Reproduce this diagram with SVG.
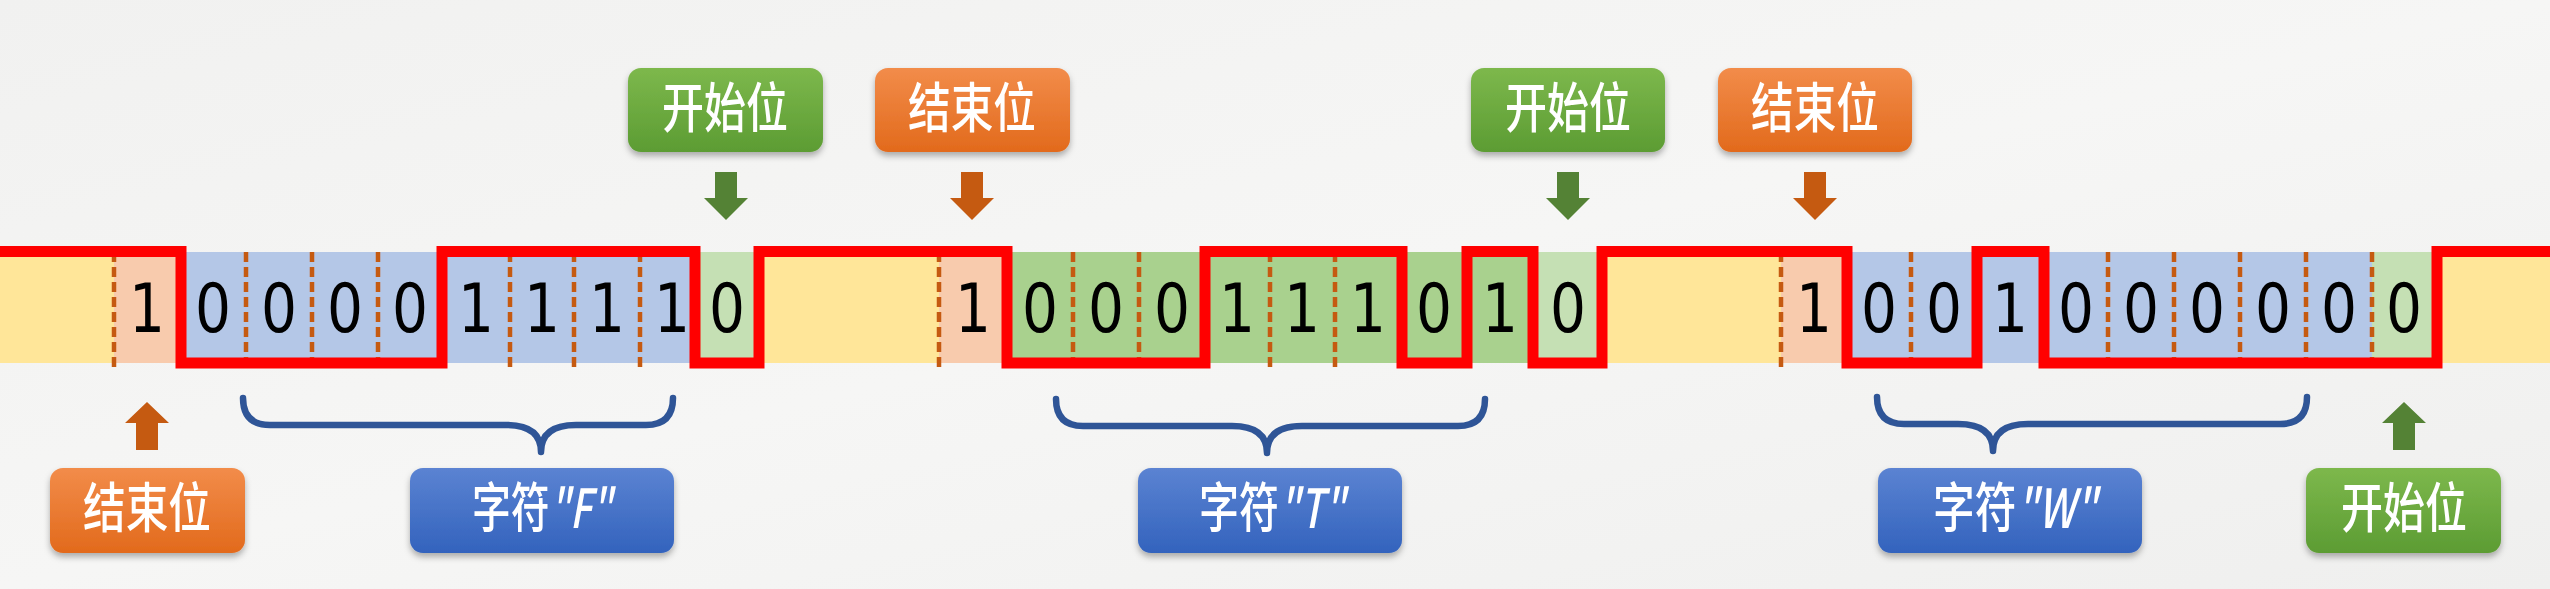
<svg xmlns="http://www.w3.org/2000/svg" width="2550" height="589" viewBox="0 0 2550 589">
  <style>
    .idle{fill:#ffe699}
    .stop{fill:#f8cbad}
    .dataB{fill:#b4c7e7}
    .dataG{fill:#a9d18e}
    .start{fill:#c5e0b4}
    .dash{stroke:#c55a11;stroke-width:4.5;stroke-dasharray:10 5;fill:none}
    .bit{font-family:"DejaVu Sans","Liberation Sans",sans-serif;font-size:68px;fill:#000;text-anchor:middle}
    .sig{fill:none;stroke:#ff0000;stroke-width:11;stroke-linejoin:miter;stroke-linecap:square}
    .lbl{font-family:"Noto Sans CJK SC","Noto Sans",sans-serif;font-size:54px;font-weight:500;fill:#fff;text-anchor:middle}
    .lat{font-style:italic}
    .brace{fill:none;stroke:#2f5597;stroke-width:6.5;stroke-linecap:round;stroke-linejoin:round}
    .arrG{fill:#548235}
    .arrO{fill:#c55a11}
  </style>
  <defs>
    <linearGradient id="gG" x1="0" y1="0" x2="0" y2="1">
      <stop offset="0" stop-color="#7db84c"/>
      <stop offset="1" stop-color="#5c9c33"/>
    </linearGradient>
    <linearGradient id="gO" x1="0" y1="0" x2="0" y2="1">
      <stop offset="0" stop-color="#f28c4a"/>
      <stop offset="1" stop-color="#e26a1c"/>
    </linearGradient>
    <linearGradient id="gB" x1="0" y1="0" x2="0" y2="1">
      <stop offset="0" stop-color="#5b83d2"/>
      <stop offset="1" stop-color="#3363bd"/>
    </linearGradient>
    <linearGradient id="bg" x1="0" y1="0" x2="1" y2="1">
      <stop offset="0" stop-color="#f1f1f0"/>
      <stop offset="0.5" stop-color="#f6f6f5"/>
      <stop offset="1" stop-color="#efefee"/>
    </linearGradient>
    <filter id="sh" x="-10%" y="-10%" width="120%" height="140%">
      <feDropShadow dx="0" dy="4" stdDeviation="3" flood-color="#000" flood-opacity="0.3"/>
    </filter>
  </defs>

  <rect x="0" y="0" width="2550" height="589" fill="url(#bg)"/>

  <!-- signal band -->
  <g id="band">
    <rect class="idle" x="0" y="252" width="114" height="111"/>
    <rect class="stop" x="114" y="252" width="67" height="111"/>
    <rect class="dataB" x="181" y="252" width="514" height="111"/>
    <rect class="start" x="695" y="252" width="64" height="111"/>
    <rect class="idle" x="759" y="252" width="180" height="111"/>
    <rect class="stop" x="939" y="252" width="68" height="111"/>
    <rect class="dataG" x="1007" y="252" width="526" height="111"/>
    <rect class="start" x="1533" y="252" width="69" height="111"/>
    <rect class="idle" x="1602" y="252" width="179" height="111"/>
    <rect class="stop" x="1781" y="252" width="66" height="111"/>
    <rect class="dataB" x="1847" y="252" width="525" height="111"/>
    <rect class="start" x="2372" y="252" width="65" height="111"/>
    <rect class="idle" x="2437" y="252" width="113" height="111"/>

    <g class="dash">
      <path d="M114 252V367M246 252V367M312 252V367M378 252V367M510 252V367M574 252V367M640 252V367"/>
      <path d="M939 252V367M1073 252V367M1139 252V367M1270 252V367M1335 252V367"/>
      <path d="M1781 252V367M1911 252V367M2108 252V367M2174 252V367M2240 252V367M2306 252V367M2372 252V367"/>
    </g>

    <g class="bit">
      <text x="147" y="332" textLength="36" lengthAdjust="spacingAndGlyphs">1</text>
      <text x="213" y="332" textLength="36" lengthAdjust="spacingAndGlyphs">0</text>
      <text x="279" y="332" textLength="36" lengthAdjust="spacingAndGlyphs">0</text>
      <text x="345" y="332" textLength="36" lengthAdjust="spacingAndGlyphs">0</text>
      <text x="410" y="332" textLength="36" lengthAdjust="spacingAndGlyphs">0</text>
      <text x="476" y="332" textLength="36" lengthAdjust="spacingAndGlyphs">1</text>
      <text x="542" y="332" textLength="36" lengthAdjust="spacingAndGlyphs">1</text>
      <text x="607" y="332" textLength="36" lengthAdjust="spacingAndGlyphs">1</text>
      <text x="672" y="332" textLength="36" lengthAdjust="spacingAndGlyphs">1</text>
      <text x="727" y="332" textLength="36" lengthAdjust="spacingAndGlyphs">0</text>

      <text x="973" y="332" textLength="36" lengthAdjust="spacingAndGlyphs">1</text>
      <text x="1040" y="332" textLength="36" lengthAdjust="spacingAndGlyphs">0</text>
      <text x="1106" y="332" textLength="36" lengthAdjust="spacingAndGlyphs">0</text>
      <text x="1172" y="332" textLength="36" lengthAdjust="spacingAndGlyphs">0</text>
      <text x="1237" y="332" textLength="36" lengthAdjust="spacingAndGlyphs">1</text>
      <text x="1302" y="332" textLength="36" lengthAdjust="spacingAndGlyphs">1</text>
      <text x="1368" y="332" textLength="36" lengthAdjust="spacingAndGlyphs">1</text>
      <text x="1434" y="332" textLength="36" lengthAdjust="spacingAndGlyphs">0</text>
      <text x="1500" y="332" textLength="36" lengthAdjust="spacingAndGlyphs">1</text>
      <text x="1568" y="332" textLength="36" lengthAdjust="spacingAndGlyphs">0</text>

      <text x="1814" y="332" textLength="36" lengthAdjust="spacingAndGlyphs">1</text>
      <text x="1879" y="332" textLength="36" lengthAdjust="spacingAndGlyphs">0</text>
      <text x="1944" y="332" textLength="36" lengthAdjust="spacingAndGlyphs">0</text>
      <text x="2010" y="332" textLength="36" lengthAdjust="spacingAndGlyphs">1</text>
      <text x="2076" y="332" textLength="36" lengthAdjust="spacingAndGlyphs">0</text>
      <text x="2141" y="332" textLength="36" lengthAdjust="spacingAndGlyphs">0</text>
      <text x="2207" y="332" textLength="36" lengthAdjust="spacingAndGlyphs">0</text>
      <text x="2273" y="332" textLength="36" lengthAdjust="spacingAndGlyphs">0</text>
      <text x="2339" y="332" textLength="36" lengthAdjust="spacingAndGlyphs">0</text>
      <text x="2404" y="332" textLength="36" lengthAdjust="spacingAndGlyphs">0</text>
    </g>

    <path class="sig" d="M-10 251.5H181V363H442V251.5H695V363H759V251.5H1007V363H1205V251.5H1402V363H1467V251.5H1533V363H1602V251.5H1847V363H1977V251.5H2044V363H2437V251.5H2560"/>
  </g>

  <!-- connectors: pointer arrows and braces -->
  <g id="connectors">
    <path class="arrG" d="M715 172H737V198H748L726 220L704 198H715Z"/>
    <path class="arrO" d="M961 172H983V198H994L972 220L950 198H961Z"/>
    <path class="arrG" d="M1557 172H1579V198H1590L1568 220L1546 198H1557Z"/>
    <path class="arrO" d="M1804 172H1826V198H1837L1815 220L1793 198H1804Z"/>
    <path class="arrO" d="M136 450H158V423H169L147 402L125 423H136Z"/>
    <path class="arrG" d="M2393 450H2415V423H2426L2404 402L2382 423H2393Z"/>

    <path class="brace" d="M243 398Q243 425 270 425H506Q541 425 541 452Q541 425 576 425H646Q673 425 673 398"/>
    <path class="brace" d="M1056 399Q1056 426 1083 426H1232Q1267 426 1267 453Q1267 426 1302 426H1458Q1485 426 1485 399"/>
    <path class="brace" d="M1877 397Q1877 424 1904 424H1958Q1993 424 1993 451Q1993 424 2028 424H2280Q2307 424 2307 397"/>
  </g>

  <!-- label nodes -->
  <g id="label-start-1" filter="url(#sh)">
    <rect x="628" y="68" width="195" height="84" rx="13" fill="url(#gG)"/>
    <text class="lbl" x="725" y="128" textLength="126" lengthAdjust="spacingAndGlyphs">开始位</text>
  </g>
  <g id="label-stop-1" filter="url(#sh)">
    <rect x="875" y="68" width="195" height="84" rx="13" fill="url(#gO)"/>
    <text class="lbl" x="972" y="128" textLength="128" lengthAdjust="spacingAndGlyphs">结束位</text>
  </g>
  <g id="label-start-2" filter="url(#sh)">
    <rect x="1471" y="68" width="194" height="84" rx="13" fill="url(#gG)"/>
    <text class="lbl" x="1568" y="128" textLength="126" lengthAdjust="spacingAndGlyphs">开始位</text>
  </g>
  <g id="label-stop-2" filter="url(#sh)">
    <rect x="1718" y="68" width="194" height="84" rx="13" fill="url(#gO)"/>
    <text class="lbl" x="1815" y="128" textLength="128" lengthAdjust="spacingAndGlyphs">结束位</text>
  </g>
  <g id="label-stop-0" filter="url(#sh)">
    <rect x="50" y="468" width="195" height="85" rx="13" fill="url(#gO)"/>
    <text class="lbl" x="147" y="528" textLength="128" lengthAdjust="spacingAndGlyphs">结束位</text>
  </g>
  <g id="label-char-F" filter="url(#sh)">
    <rect x="410" y="468" width="264" height="85" rx="13" fill="url(#gB)"/>
    <text class="lbl" x="542" y="528" textLength="140" lengthAdjust="spacingAndGlyphs">字符<tspan class="lat">"F"</tspan></text>
  </g>
  <g id="label-char-T" filter="url(#sh)">
    <rect x="1138" y="468" width="264" height="85" rx="13" fill="url(#gB)"/>
    <text class="lbl" x="1272" y="528" textLength="146" lengthAdjust="spacingAndGlyphs">字符<tspan class="lat">"T"</tspan></text>
  </g>
  <g id="label-char-W" filter="url(#sh)">
    <rect x="1878" y="468" width="264" height="85" rx="13" fill="url(#gB)"/>
    <text class="lbl" x="2015" y="528" textLength="164" lengthAdjust="spacingAndGlyphs">字符<tspan class="lat">"W"</tspan></text>
  </g>
  <g id="label-start-3" filter="url(#sh)">
    <rect x="2306" y="468" width="195" height="85" rx="13" fill="url(#gG)"/>
    <text class="lbl" x="2404" y="528" textLength="126" lengthAdjust="spacingAndGlyphs">开始位</text>
  </g>
</svg>
